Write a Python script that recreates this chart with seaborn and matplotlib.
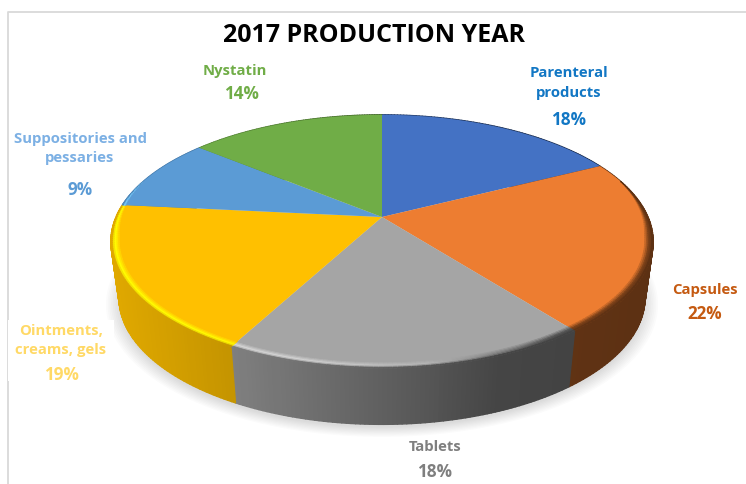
# -*- coding: utf-8 -*-
"""3D look pie chart of the 2017 production year shares."""

import numpy as np
import matplotlib
matplotlib.use("Agg")
import matplotlib.pyplot as plt
from matplotlib.collections import PolyCollection
from matplotlib.patches import Rectangle
from matplotlib.path import Path
from matplotlib.transforms import Transform
import seaborn as sns

categories = ["Parenteral\nproducts", "Capsules", "Tablets",
              "Ointments,\ncreams, gels", "Suppositories and\npessaries", "Nystatin"]
shares = [18, 22, 18, 19, 9, 14]
slice_sizes = [17.5, 22, 18.3, 18.8, 9.4, 14]
slice_colors = ["#4472C4", "#ED7D31", "#A5A5A5", "#FFC000", "#5B9BD5", "#70AD47"]
label_colors = ["#1277C4", "#C55A11", "#7F7F7F", "#FFD966", "#7CB0E4", "#70AD47"]
share_colors = ["#1277C4", "#C55A11", "#7F7F7F", "#FFD966", "#5B9BD5", "#70AD47"]
title = "2017 PRODUCTION YEAR"

sns.set_theme(style="white")
plt.rcParams["font.family"] = ["Open Sans", "DejaVu Sans"]

# shading of the side wall and of the bevel, by pixel column
WALL_X = [110, 233, 400, 500, 654]
WALL_SHADE = [0.88, 0.77, 0.56, 0.42, 0.39]
BEVEL_X = [110, 300, 430, 560, 654]
BEVEL_SHADE = [1.35, 1.28, 1.1, 0.5, 0.5]


class DiscView(Transform):
    """Tilted camera view of a unit disc, near side larger than far side."""
    input_dims = 2
    output_dims = 2
    is_separable = False
    tilt = 0.194

    def __init__(self, cx, cy, wide, deep):
        super().__init__()
        self.cx, self.cy, self.wide, self.deep = cx, cy, wide, deep

    def transform_non_affine(self, values):
        x, y = values[:, 0], values[:, 1]
        w = 1 + self.tilt * y
        return np.column_stack((self.cx + self.wide * x / w, self.cy - self.deep * y / w))

    def transform_path_non_affine(self, path):
        # flatten at a large scale, curve flattening works in pixel sized units
        big = Path(path.vertices * 2000, path.codes)
        poly = big.to_polygons(closed_only=False)[0] / 2000
        return Path(self.transform_non_affine(poly))


def rgb(color, shade=1.0):
    return np.clip(np.array(matplotlib.colors.to_rgb(color)) * shade, 0, 1)


def rim_points(view, theta, radius=1.0):
    return view.transform_non_affine(np.column_stack((radius * np.cos(theta), radius * np.sin(theta))))


top_view = DiscView(382, 217, 266, 122)
base_view = DiscView(382, 273, 258, 122)
shadow_view = DiscView(382, 278, 260, 122)

fig = plt.figure(figsize=(7.46, 4.84), dpi=100)
ax = fig.add_axes([0, 0, 1, 1])

# soft shadow under the disc
for r in np.linspace(1.04, 0.99, 9):
    shadow, _ = ax.pie([1], radius=r, colors=["black"], wedgeprops={"alpha": 0.016, "linewidth": 0})
    shadow[0].set_transform(shadow_view + ax.transData)
    shadow[0].set_zorder(1)

# top surface
wedges, _ = ax.pie(slice_sizes, colors=slice_colors, startangle=90, counterclock=False,
                   wedgeprops={"linewidth": 0})
for wedge in wedges:
    wedge.set_transform(top_view + ax.transData)
    wedge.set_zorder(3)

# side wall and bevel as thin strips along every slice's arc
wall_polys, wall_cols = [], []
bevel_polys, bevel_cols = [], []
bevel_depth = 0.036
bevel_bands = 6
for wedge, color in zip(wedges, slice_colors):
    edges = np.radians(np.linspace(wedge.theta1, wedge.theta2, 80))
    upper = rim_points(top_view, edges)
    lower = rim_points(base_view, edges)
    for i in range(len(edges) - 1):
        mid_x = upper[i:i + 2, 0].mean()
        wall_col = rgb(color, np.interp(mid_x, WALL_X, WALL_SHADE))
        wall_polys.append([upper[i], upper[i + 1], lower[i + 1], lower[i]])
        wall_cols.append(wall_col)
        # bevel only shows on the near side of the disc
        near = np.clip((0.3 - np.sin(edges[i])) / 0.45, 0, 1)
        if near <= 0:
            continue
        peak = rgb(color, np.interp(mid_x, BEVEL_X, BEVEL_SHADE))
        for j in range(bevel_bands):
            t = j / (bevel_bands - 1)
            r0 = 1 - bevel_depth * near * (1 - j / bevel_bands)
            r1 = 1 - bevel_depth * near * (1 - (j + 1) / bevel_bands)
            inner = rim_points(top_view, edges[i:i + 2], r0)
            outer = rim_points(top_view, edges[i:i + 2], r1)
            blend = min(t * 1.6, 1.0)
            col = rgb(color) * (1 - blend) + peak * blend
            if t > 0.7:
                fade = (t - 0.7) / 0.3
                col = col * (1 - fade) + wall_col * fade
            bevel_polys.append([inner[0], inner[1], outer[1], outer[0]])
            bevel_cols.append(col)

ax.add_collection(PolyCollection(wall_polys, facecolors=wall_cols, edgecolors=wall_cols,
                                 linewidths=1.0, zorder=2))
ax.add_collection(PolyCollection(bevel_polys, facecolors=bevel_cols, edgecolors=bevel_cols,
                                 linewidths=0.6, zorder=4))

ax.set_aspect("auto")
ax.set_xlim(0, 746)
ax.set_ylim(484, 0)
ax.axis("off")

# chart frame, and the white box the ointments label sits on
ax.plot([8, 8, 746], [484, 12, 12], color="#D9D9D9", lw=1.3, zorder=1)
ax.add_patch(Rectangle((8, 320), 106, 61, facecolor="white", edgecolor="none", zorder=5))

ax.text(374, 35, title, fontsize=18, fontweight="bold", color="black", ha="center", va="center", zorder=6)

name_pos = [(569, 83), (705, 290), (435, 447), (61, 340.5), (80, 148.5), (235, 71)]
share_pos = [(569, 120), (705, 314), (435, 472), (61, 375), (80, 190), (241, 94)]
for name, value, npos, spos, ncol, scol in zip(categories, shares, name_pos, share_pos,
                                               label_colors, share_colors):
    ax.text(npos[0], npos[1], name, fontsize=10.7, fontweight="bold", color=ncol, ha="center",
            va="center", linespacing=1.5, zorder=6)
    ax.text(spos[0], spos[1], f"{value}%", fontsize=12.3, fontweight="bold", color=scol, ha="center",
            va="center", zorder=6)

fig.savefig("out.png", dpi=100)
